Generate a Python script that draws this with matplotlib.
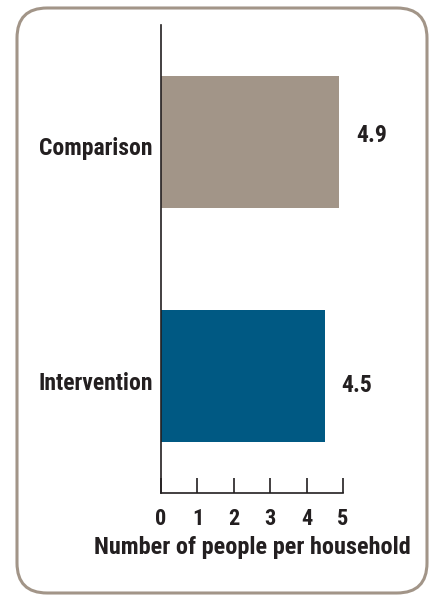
import matplotlib
matplotlib.use("Agg")
import matplotlib.pyplot as plt
import matplotlib.transforms as mtransforms
from matplotlib.patches import FancyBboxPatch
from matplotlib import font_manager

categories = ["Intervention", "Comparison"]
values = [4.5, 4.9]
value_labels = ["4.5", "4.9"]
colors = ["#005983", "#a29588"]
xticks = [0, 1, 2, 3, 4, 5]
xlabel = "Number of people per household"

names = {f.name for f in font_manager.fontManager.ttflist}
fam = [n for n in ["Roboto Condensed", "Liberation Sans Narrow", "Roboto", "DejaVu Sans"] if n in names]
plt.rcParams['font.family'] = fam

W, H = 430, 601
fig = plt.figure(figsize=(W/100, H/100), dpi=100)
fig.patch.set_facecolor("white")

box = FancyBboxPatch((17/W, 1 - 593/H), 410/W, 585/H,
                     boxstyle="round,pad=0,rounding_size=0.07",
                     transform=fig.transFigure, facecolor="white",
                     edgecolor="#a29588", linewidth=2.2, mutation_aspect=W/H,
                     zorder=-10)
fig.patches.append(box)

ax = fig.add_axes([161/W, 1 - 493/H, 182/W, 468/H])
ax.set_zorder(5)
ax.set_facecolor("none")
ax.barh(range(len(categories)), values, height=0.564, color=colors)
ax.set_xlim(0, 5)
ax.set_ylim(-0.5, 1.5)
for s in ["top", "right"]:
    ax.spines[s].set_visible(False)
for s in ["left", "bottom"]:
    ax.spines[s].set_color("#231f20")
    ax.spines[s].set_linewidth(1.2)
ax.set_xticks(xticks)
ax.set_xticklabels([str(t) for t in xticks], fontsize=16, fontweight="bold", color="#231f20")
ax.tick_params(axis="x", direction="in", length=11, width=1.2, color="#231f20", pad=11)
ax.set_yticks(range(len(categories)))
ax.set_yticklabels(categories, fontsize=17, fontweight="bold", color="#231f20")
ax.tick_params(axis="y", length=0, pad=6)
for lab, dy in zip(ax.get_yticklabels(), [-5, -4]):
    lab.set_transform(lab.get_transform() + mtransforms.ScaledTranslation(0, dy / 100, fig.dpi_scale_trans))
ax.set_xlabel(xlabel, fontsize=17.5, fontweight="bold", color="#231f20", labelpad=4)

offsets = [-6.5, 5]
for i, (v, lab) in enumerate(zip(values, value_labels)):
    ax.annotate(lab, xy=(v, i), xytext=(12, offsets[i]), textcoords="offset points",
                ha="left", va="center", fontsize=17, fontweight="bold",
                color="#231f20", annotation_clip=False)

fig.savefig("out.png", dpi=100)
